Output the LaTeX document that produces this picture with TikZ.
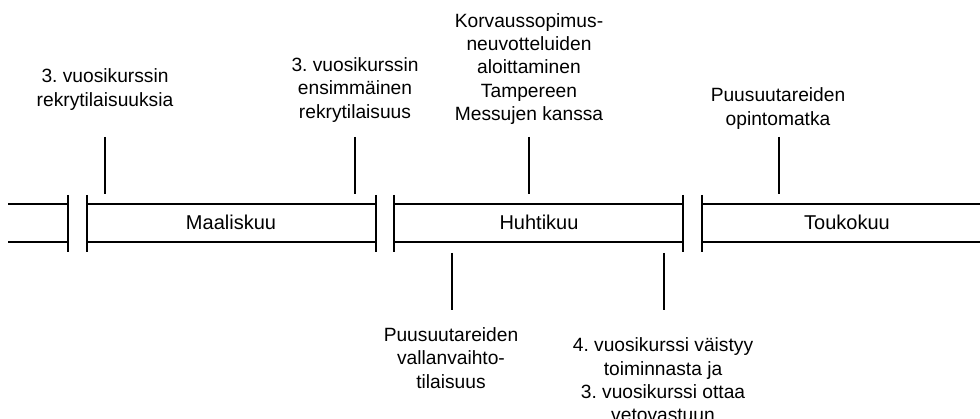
\documentclass[tikz,border=0pt]{standalone}
\usepackage{fontspec}
\setmainfont{Liberation Sans}
\frenchspacing
\begin{document}
\begin{tikzpicture}[x=1pt,y=-1pt,
  lbl/.style={align=center,inner sep=0pt,font=\fontsize{19.2}{23.4}\selectfont},
  month/.style={inner sep=0pt,font=\fontsize{20}{24}\selectfont},
  ln/.style={line width=1.8pt,black},
  tick/.style={line width=1.8pt,black}]
\useasboundingbox (0,0) rectangle (980,419);
% band
\coordinate (L0t) at (8,204); \coordinate (L1t) at (68,204);
\coordinate (L0b) at (8,242); \coordinate (L1b) at (68,242);
\draw[ln] (L0t) -- (L1t); \draw[ln] (L0b) -- (L1b);
\draw[ln] (68,195) -- (68,252);
\draw[ln] (87,195) -- (87,252);
\draw[ln] (87,204) -- (376,204); \draw[ln] (87,242) -- (376,242);
\draw[ln] (376,195) -- (376,252);
\draw[ln] (394,195) -- (394,252);
\draw[ln] (394,204) -- (683,204); \draw[ln] (394,242) -- (683,242);
\draw[ln] (683,195) -- (683,252);
\draw[ln] (702,195) -- (702,252);
\draw[ln] (702,204) -- (982,204); \draw[ln] (702,242) -- (982,242);
\node[month] (m1) at (231,222) {Maaliskuu};
\node[month] (m2) at (539,222) {Huhtikuu};
\node[month] (m3) at (847,222) {Toukokuu};
% labels
\node[lbl] (e1) at (105,89.5) {3. vuosikurssin\\rekrytilaisuuksia};
\node[lbl] (e2) at (355,90) {3. vuosikurssin\\ensimmäinen\\rekrytilaisuus};
\node[lbl] (e3) at (529,69) {Korvaussopimus-\\neuvotteluiden\\aloittaminen\\Tampereen\\Messujen kanssa};
\node[lbl] (e4) at (778,108.5) {Puusuutareiden\\opintomatka};
\node[lbl] (e5) at (451,358) {Puusuutareiden\\vallanvaihto-\\tilaisuus};
\node[lbl] (e6) at (663,380) {4. vuosikurssi väistyy\\toiminnasta ja\\3. vuosikurssi ottaa\\vetovastuun};
% ticks
\coordinate (t1a) at (105,137); \coordinate (t1b) at (105,194);
\coordinate (t2a) at (355,137); \coordinate (t2b) at (355,194);
\coordinate (t3a) at (529,137); \coordinate (t3b) at (529,194);
\coordinate (t4a) at (779,137); \coordinate (t4b) at (779,194);
\coordinate (t5a) at (452,253); \coordinate (t5b) at (452,310);
\coordinate (t6a) at (664,253); \coordinate (t6b) at (664,310);
\draw[tick] (t1a) -- (t1b);
\draw[tick] (t2a) -- (t2b);
\draw[tick] (t3a) -- (t3b);
\draw[tick] (t4a) -- (t4b);
\draw[tick] (t5a) -- (t5b);
\draw[tick] (t6a) -- (t6b);
\end{tikzpicture}
\end{document}
